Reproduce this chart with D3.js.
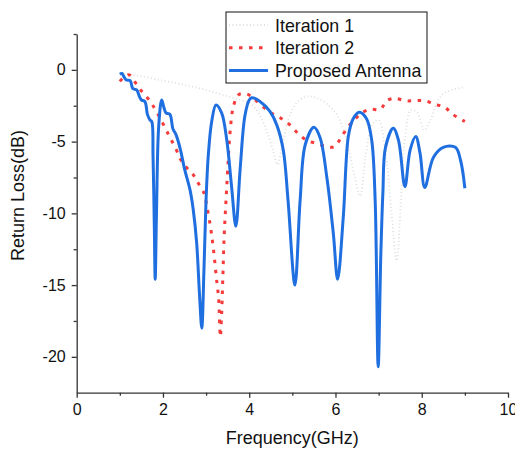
<!DOCTYPE html>
<html>
<head>
<meta charset="utf-8">
<script src="https://cdn.jsdelivr.net/npm/d3@7"></script>
<style>
body{margin:0;background:#fff;}
text{font-family:Arial,"Liberation Sans",sans-serif;fill:#111;}
</style>
</head>
<body>
<script>
// series: [GHz, dB]
var iter1 = [[1.0,-0.2],[1.2,-0.3],[1.5,-0.45],[2.0,-0.75],[2.5,-1.05],[3.0,-1.4],[3.5,-1.85],[3.8,-2.1],[4.0,-2.3],[4.2,-2.9],[4.4,-4.2],[4.55,-5.6],[4.65,-6.6],[4.75,-5.6],[4.9,-3.5],[5.1,-2.3],[5.33,-1.86],[5.6,-2.0],[5.85,-2.5],[6.05,-3.2],[6.25,-4.8],[6.45,-7.5],[6.57,-8.8],[6.7,-6.0],[6.85,-3.8],[7.0,-3.5],[7.15,-5.5],[7.3,-10],[7.42,-13.3],[7.52,-9],[7.62,-4.5],[7.75,-2.8],[7.9,-3.0],[8.05,-4.2],[8.2,-3.5],[8.4,-2.0],[8.6,-1.5],[9.0,-1.2]];

var iter2 = [[1.0,-0.8],[1.1,-0.5],[1.22,-0.35],[1.37,-0.93],[1.51,-1.5],[1.68,-2.1],[1.82,-2.75],[2.06,-4.1],[2.16,-4.7],[2.3,-5.5],[2.4,-6.2],[2.53,-6.75],[2.7,-7.3],[2.82,-7.9],[2.96,-8.65],[3.01,-9.4],[3.1,-10.9],[3.17,-12.5],[3.25,-14.8],[3.29,-15.9],[3.33,-18.6],[3.36,-17],[3.39,-14.3],[3.42,-11.5],[3.46,-9.2],[3.5,-7.0],[3.56,-4.2],[3.63,-2.6],[3.75,-1.74],[3.94,-1.67],[4.1,-2.0],[4.33,-2.6],[4.56,-3.1],[4.75,-3.4],[4.95,-3.85],[5.14,-4.45],[5.33,-4.9],[5.52,-5.1],[5.8,-5.35],[5.98,-5.35],[6.14,-4.65],[6.3,-3.95],[6.45,-3.45],[6.61,-3.0],[6.8,-2.75],[7.04,-2.75],[7.19,-2.15],[7.38,-1.98],[7.61,-2.15],[7.84,-2.15],[8.07,-2.15],[8.3,-2.4],[8.53,-2.6],[8.72,-3.1],[9.0,-3.6]];

var proposed = [[1.0,-0.3],[1.05,-0.25],[1.1,-0.5],[1.15,-0.7],[1.24,-0.75],[1.3,-1.3],[1.39,-1.4],[1.46,-1.9],[1.5,-2.1],[1.58,-2.2],[1.64,-3.1],[1.7,-3.5],[1.74,-3.6],[1.77,-6],[1.8,-11],[1.82,-14.6],[1.85,-10],[1.9,-4],[1.97,-2.1],[2.02,-2.6],[2.07,-3.0],[2.16,-3.1],[2.23,-4.1],[2.3,-4.5],[2.4,-5.5],[2.5,-6.9],[2.63,-8.4],[2.7,-9.7],[2.78,-12],[2.85,-15.8],[2.9,-18.0],[2.95,-14],[3.0,-9],[3.05,-6],[3.13,-3.6],[3.23,-2.45],[3.36,-3.0],[3.48,-4.9],[3.59,-8.1],[3.69,-10.9],[3.79,-6.9],[3.9,-3.2],[4.0,-2.1],[4.06,-1.95],[4.25,-2.2],[4.48,-2.9],[4.64,-3.85],[4.79,-5.6],[4.9,-9.1],[5.06,-15.0],[5.18,-9.1],[5.3,-5.2],[5.5,-4.0],[5.64,-4.7],[5.8,-7.5],[5.95,-11.4],[6.05,-14.6],[6.18,-10.3],[6.3,-4.6],[6.41,-3.4],[6.55,-2.95],[6.72,-3.4],[6.84,-4.9],[6.92,-9.1],[6.99,-20.7],[7.05,-13],[7.1,-8.5],[7.16,-5.4],[7.34,-4.07],[7.46,-4.9],[7.61,-8.14],[7.73,-5.6],[7.86,-4.65],[7.96,-5.8],[8.07,-8.2],[8.27,-6.1],[8.5,-5.4],[8.78,-5.4],[8.9,-6.3],[9.0,-8.25]];

var xTicks = [0,2,4,6,8,10];
var yTicks = [0,-5,-10,-15,-20];
var legendNames = ["Iteration 1","Iteration 2","Proposed Antenna"];

var w = 515, h = 450;
var padL = 76.7, padR = 508, padT = 34, padB = 392.7;

var svg = d3.select("body").append("svg")
	.attr("width", w)
	.attr("height", h);

var x = d3.scaleLinear().domain([0,10]).range([padL,padR]);
var y = d3.scaleLinear().domain([-22.5,2.5]).range([padB,padT]);

// minor ticks first
svg.append("g")
	.attr("transform","translate(0,"+padB+")")
	.call(d3.axisBottom(x).tickValues([1,3,5,7,9]).tickSize(3).tickFormat(""))
	.call(function(g){ g.select(".domain").remove(); });
svg.append("g")
	.attr("transform","translate("+padL+",0)")
	.call(d3.axisLeft(y).tickValues([2.5,-2.5,-7.5,-12.5,-17.5]).tickSize(3).tickFormat(""))
	.call(function(g){ g.select(".domain").remove(); });

var xAxis = svg.append("g")
	.attr("transform","translate(0,"+padB+")")
	.call(d3.axisBottom(x).tickValues(xTicks).tickSize(5).tickSizeOuter(0).tickPadding(6).tickFormat(d3.format("d")));
var yAxis = svg.append("g")
	.attr("transform","translate("+padL+",0)")
	.call(d3.axisLeft(y).tickValues(yTicks).tickSize(5).tickSizeOuter(0).tickPadding(6).tickFormat(function(d){ return d; }));

svg.selectAll(".tick line").attr("stroke","#333").attr("stroke-width",1.3);
svg.selectAll(".domain").attr("stroke","#333").attr("stroke-width",1.3);
svg.selectAll(".tick text").attr("font-size",16).attr("font-family","Arial, 'Liberation Sans', sans-serif").attr("fill","#111");

var line = d3.line()
	.x(function(d){ return x(d[0]); })
	.y(function(d){ return y(d[1]); })
	.curve(d3.curveCatmullRom.alpha(0.5));

var styles = [
	{data: iter1, color:"#dedede", width:1.8, dash:"1,2.5"},
	{data: iter2, color:"#f53b3b", width:3, dash:"3.5,6.5"},
	{data: proposed, color:"#1f6fe0", width:3, dash:null}
];

styles.forEach(function(s){
	svg.append("path")
		.datum(s.data)
		.attr("d", line)
		.attr("fill","none")
		.attr("stroke", s.color)
		.attr("stroke-width", s.width)
		.attr("stroke-dasharray", s.dash)
		.attr("stroke-linejoin","round");
});

// axis titles
svg.append("text")
	.attr("x", (padL+padR)/2)
	.attr("y", 444)
	.attr("text-anchor","middle")
	.attr("font-size",18)
	.text("Frequency(GHz)");
svg.append("text")
	.attr("transform","translate(24,"+y(-8.75)+") rotate(-90)")
	.attr("text-anchor","middle")
	.attr("font-size",18)
	.text("Return Loss(dB)");

// legend
var lg = svg.append("g");
lg.append("rect")
	.attr("x",226).attr("y",12)
	.attr("width",201).attr("height",71)
	.attr("fill","#fff").attr("stroke","#111").attr("stroke-width",1);
legendNames.forEach(function(name,i){
	var yy = 25 + i*22.8;
	lg.append("line")
		.attr("x1",229).attr("x2",268)
		.attr("y1",yy).attr("y2",yy)
		.attr("stroke",styles[i].color)
		.attr("stroke-width",styles[i].width)
		.attr("stroke-dasharray",styles[i].dash);
	lg.append("text")
		.attr("x",275).attr("y",yy+6.5)
		.attr("font-size",17.8)
		.text(name);
});
</script>
</body>
</html>
